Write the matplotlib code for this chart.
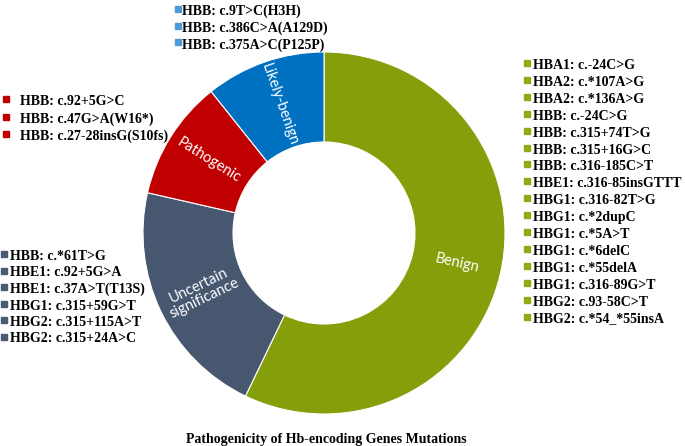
import numpy as np
import matplotlib
matplotlib.use('Agg')
import matplotlib.pyplot as plt

# categories, counts of mutations in each one
categories = ['Benign', 'Uncertain significance', 'Pathogenic', 'Likely-benign']
counts = [16, 6, 3, 3]
slice_labels = ['Benign', 'Uncertain\nsignificance', 'Pathogenic', 'Likely-benign']
colors = ['#859F0A', '#475770', '#C00000', '#0070C0']
square_colors = ['#8FAA12', '#4A5A72', '#C00000', '#4E9AD6']

benign_mut = ['HBA1: c.-24C>G', 'HBA2: c.*107A>G', 'HBA2: c.*136A>G', 'HBB: c.-24C>G',
              'HBB: c.315+74T>G', 'HBB: c.315+16G>C', 'HBB: c.316-185C>T',
              'HBE1: c.316-85insGTTT', 'HBG1: c.316-82T>G', 'HBG1: c.*2dupC',
              'HBG1: c.*5A>T', 'HBG1: c.*6delC', 'HBG1: c.*55delA', 'HBG1: c.316-89G>T',
              'HBG2: c.93-58C>T', 'HBG2: c.*54_*55insA']
uncertain_mut = ['HBB: c.*61T>G', 'HBE1: c.92+5G>A', 'HBE1: c.37A>T(T13S)',
                 'HBG1: c.315+59G>T', 'HBG2: c.315+115A>T', 'HBG2: c.315+24A>C']
pathogenic_mut = ['HBB: c.92+5G>C', 'HBB: c.47G>A(W16*)', 'HBB: c.27-28insG(S10fs)']
likely_mut = ['HBB: c.9T>C(H3H)', 'HBB: c.386C>A(A129D)', 'HBB: c.375A>C(P125P)']

title = 'Pathogenicity of Hb-encoding Genes Mutations'

W, H = 685, 446
fig = plt.figure(figsize=(W / 100, H / 100), dpi=100)
ax = fig.add_axes([0, 0, 1, 1])

cx, cy, R, ring = 324, H - 233, 181, 90
wedges, _ = ax.pie(counts, colors=colors, startangle=90, counterclock=False,
                   center=(cx, cy), radius=R, frame=True,
                   wedgeprops=dict(width=ring, edgecolor='white', linewidth=0.8))
ax.set_xlim(0, W)
ax.set_ylim(0, H)
ax.set_aspect('equal')
ax.axis('off')

# labels inside the ring, rotated along the radius
for w, lab in zip(wedges, slice_labels):
    mid = (w.theta1 + w.theta2) / 2
    r = R - ring / 2
    x = cx + r * np.cos(np.radians(mid))
    y = cy + r * np.sin(np.radians(mid))
    rot = mid
    while rot > 90:
        rot -= 180
    while rot < -90:
        rot += 180
    ax.text(x, y, lab, color='white', fontsize=10.5, family='Lato',
            rotation=rot, rotation_mode='anchor', ha='center', va='center',
            linespacing=1.05)

def mut_list(items, col, x_sq, x_txt, y0, step):
    for i, t in enumerate(items):
        y = H - (y0 + i * step)
        ax.plot([x_sq], [y + 1], marker='s', ms=4, color=col, ls='')
        ax.text(x_txt, y, t, fontsize=10, family='Liberation Serif', weight='bold',
                ha='left', va='center_baseline', color='black')

mut_list(benign_mut, square_colors[0], 527, 533, 64, 16.9)
mut_list(uncertain_mut, square_colors[1], 4, 10, 255, 16.5)
mut_list(pathogenic_mut, square_colors[2], 6, 20, 100, 17.5)
mut_list(likely_mut, square_colors[3], 178, 182, 10, 16.7)

ax.text(326, H - 438, title, fontsize=10, family='Liberation Serif', weight='bold',
        ha='center', va='center_baseline', color='black')

fig.savefig('out.png', dpi=100)
